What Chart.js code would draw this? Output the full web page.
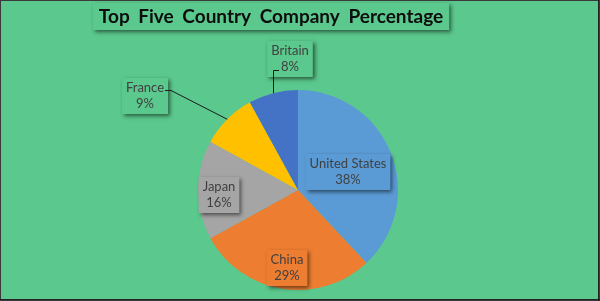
<!DOCTYPE html>
<html>
<head>
<meta charset="utf-8">
<script src="https://cdn.jsdelivr.net/npm/chart.js@4"></script>
<style>
  html, body { margin: 0; padding: 0; background: #5BC88D; }
  #wrap { width: 600px; height: 301px; position: relative; }
</style>
</head>
<body>
<div id="wrap"><canvas id="pie" width="600" height="301"></canvas></div>
<script>
// 데이터
const chartTitle = 'Top Five Country Company Percentage';
const countries = ['United States', 'China', 'Japan', 'France', 'Britain'];
const shares = [38, 29, 16, 9, 8];
const sliceColors = ['#5B9BD5', '#ED7D31', '#A5A5A5', '#FFC000', '#4472C4'];

const BG = '#5BC88D';
const FONT = 'Lato, "Open Sans", sans-serif';

// 라벨 위치 (반지름 단위, 파이 중심 기준)
const labelPlace = [
    { dx: 0.50, dy: -0.18 },
    { dx: -0.11, dy: 0.78 },
    { dx: -0.79, dy: 0.05 },
    { dx: -1.53, dy: -0.94, leader: 'france' },
    { dx: -0.08, dy: -1.31, leader: 'britain' }
];

function shadowBox(ctx, x, y, w, h, fill) {
    ctx.save();
    ctx.shadowColor = 'rgba(0,0,0,0.55)';
    ctx.shadowBlur = 4;
    ctx.shadowOffsetX = 2;
    ctx.shadowOffsetY = 2;
    ctx.fillStyle = fill;
    ctx.fillRect(x, y, w, h);
    ctx.restore();
}

// 배경, 테두리, 제목
const framePlugin = {
    id: 'frame',
    beforeDraw(chart) {
        const ctx = chart.ctx;
        ctx.save();
        ctx.fillStyle = BG;
        ctx.fillRect(0, 0, chart.width, chart.height);
        // 제목 박스
        ctx.font = 'bold 19px ' + FONT;
        ctx.wordSpacing = '4px';
        const tw = ctx.measureText(chartTitle).width;
        const cx = 271;
        shadowBox(ctx, cx - tw / 2 - 6, 3, tw + 12, 27, BG);
        ctx.fillStyle = '#0d0d0d';
        ctx.textAlign = 'center';
        ctx.textBaseline = 'middle';
        ctx.fillText(chartTitle, cx, 17);
        ctx.wordSpacing = '0px';
        ctx.restore();
    },
    afterDraw(chart) {
        const ctx = chart.ctx;
        ctx.save();
        ctx.strokeStyle = '#3a3a3a';
        ctx.lineWidth = 1;
        ctx.strokeRect(0.5, 0.5, chart.width - 1, chart.height - 1);
        ctx.strokeStyle = '#222';
        ctx.beginPath();
        ctx.moveTo(chart.width - 1.5, 0);
        ctx.lineTo(chart.width - 1.5, chart.height);
        ctx.moveTo(0, chart.height - 1.5);
        ctx.lineTo(chart.width, chart.height - 1.5);
        ctx.stroke();
        ctx.restore();
    }
};

// 데이터 라벨
const labelPlugin = {
    id: 'sliceLabels',
    afterDatasetsDraw(chart) {
        const ctx = chart.ctx;
        const meta = chart.getDatasetMeta(0);
        ctx.save();
        ctx.font = '13px ' + FONT;
        meta.data.forEach((arc, i) => {
            const p = arc.getProps(['x', 'y', 'outerRadius', 'startAngle', 'endAngle'], true);
            const R = p.outerRadius;
            const place = labelPlace[i];
            const lx = p.x + place.dx * R;
            const ly = p.y + place.dy * R;
            const line1 = countries[i];
            const line2 = shares[i] + '%';
            const w = Math.max(ctx.measureText(line1).width, ctx.measureText(line2).width) + 8;
            const h = 36;
            const outside = !!place.leader;
            shadowBox(ctx, lx - w / 2, ly - h / 2, w, h, outside ? BG : sliceColors[i]);

            // 리더 라인
            if (outside) {
                const mid = (p.startAngle + p.endAngle) / 2;
                const ex = p.x + Math.cos(mid) * R;
                const ey = p.y + Math.sin(mid) * R;
                ctx.strokeStyle = '#1a1a1a';
                ctx.lineWidth = 1;
                ctx.beginPath();
                if (place.leader === 'france') {
                    const tx = lx + ctx.measureText(line1).width / 2 + 1;
                    ctx.moveTo(tx, ly - 5.5);
                    ctx.lineTo(tx + 6, ly - 5.5);
                    ctx.lineTo(ex, ey);
                } else {
                    const tx = lx - ctx.measureText(line2).width / 2 - 2;
                    ctx.moveTo(tx, ly + 11.5);
                    ctx.lineTo(Math.round(ex) + 0.5, ly + 11.5);
                    ctx.lineTo(Math.round(ex) + 0.5, ey);
                }
                ctx.stroke();
            }

            ctx.fillStyle = '#404040';
            ctx.textAlign = 'center';
            ctx.textBaseline = 'middle';
            ctx.fillText(line1, lx, ly - 8);
            ctx.fillText(line2, lx, ly + 8);
        });
        ctx.restore();
    }
};

const pieChart = new Chart(document.getElementById('pie'), {
    type: 'pie',
    data: {
        labels: countries,
        datasets: [{
            data: shares,
            backgroundColor: sliceColors,
            borderWidth: 0
        }]
    },
    options: {
        responsive: false,
        animation: false,
        layout: {
            padding: { top: 90, bottom: 11, left: 0, right: 4 }
        },
        plugins: {
            legend: { display: false },
            tooltip: { enabled: false },
            title: { display: false, text: chartTitle }
        }
    },
    plugins: [framePlugin, labelPlugin]
});
</script>
</body>
</html>
